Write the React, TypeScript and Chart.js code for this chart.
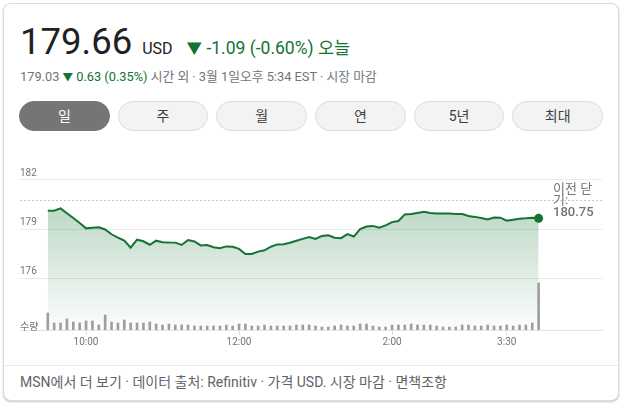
import React, { useEffect, useRef } from "react";
import { Chart, registerables } from "chart.js";

Chart.register(...registerables);

const FONT = 'Roboto, "Noto Sans CJK KR", "Noto Sans", sans-serif';

// 5-minute intraday times (Eastern)
const times = [
  "09:30", "09:35", "09:40", "09:45", "09:50", "09:55",
  "10:00", "10:05", "10:10", "10:15", "10:20", "10:25", "10:30", "10:35", "10:40", "10:45", "10:50", "10:55",
  "11:00", "11:05", "11:10", "11:15", "11:20", "11:25", "11:30", "11:35", "11:40", "11:45", "11:50", "11:55",
  "12:00", "12:05", "12:10", "12:15", "12:20", "12:25", "12:30", "12:35", "12:40", "12:45", "12:50", "12:55",
  "13:00", "13:05", "13:10", "13:15", "13:20", "13:25", "13:30", "13:35", "13:40", "13:45", "13:50", "13:55",
  "14:00", "14:05", "14:10", "14:15", "14:20", "14:25", "14:30", "14:35", "14:40", "14:45", "14:50", "14:55",
  "15:00", "15:05", "15:10", "15:15", "15:20", "15:25", "15:30", "15:35", "15:40", "15:45", "15:50", "15:55",
];

const prices = [
  180.13, 180.13, 180.27, 179.97, 179.68, 179.38,
  179.05, 179.09, 179.12, 178.98, 178.69, 178.48, 178.31, 177.87, 178.36, 178.26, 178.05, 178.30,
  178.21, 178.19, 178.18, 178.04, 178.34, 178.25, 178.01, 178.03, 177.90, 177.84, 177.95, 177.93,
  177.80, 177.49, 177.49, 177.63, 177.71, 177.93, 178.07, 178.08, 178.17, 178.29, 178.41, 178.52,
  178.41, 178.59, 178.63, 178.48, 178.45, 178.70, 178.55, 179.01, 179.16, 179.20, 179.09, 179.23,
  179.43, 179.50, 179.90, 179.92, 179.99, 180.06, 179.99, 179.96, 179.95, 179.95, 179.93, 179.92,
  179.80, 179.75, 179.68, 179.59, 179.71, 179.70, 179.52, 179.58, 179.63, 179.66, 179.70, 179.66,
];

// volume (hundreds of thousands of shares)
const volumes = [
  17, 7, 7, 11, 8, 7,
  9, 9, 5, 15, 8, 7, 10, 7, 7, 7, 8, 6,
  5, 6, 5, 5, 5, 4, 4, 4, 4, 4, 5, 4,
  6, 6, 4, 4, 5, 4, 4, 4, 4, 5, 5, 5,
  4, 3, 3, 4, 5, 4, 4, 6, 6, 4, 3, 3,
  5, 5, 5, 6, 5, 5, 5, 4, 3, 3, 3, 5,
  5, 4, 4, 5, 4, 4, 5, 4, 5, 5, 7, 47,
];

const prevClose = 180.75;
const yTickValues = [176, 179, 182];
const xTickValues = ["10:00", "12:00", "14:00", "15:30"];
const xTickLabels = ["10:00", "12:00", "2:00", "3:30"];
const rangeButtons = ["일", "주", "월", "연", "5년", "최대"];

const toMin = (t: string) => {
  const [h, m] = t.split(":").map(Number);
  return h * 60 + m;
};

const X_MIN = 548.2;
const X_MAX = 1004.7;
const Y_MIN = 172.85;
const Y_MAX = 183.22;
const VOL_MAX = 170;

function PriceChart() {
  const ref = useRef<HTMLCanvasElement | null>(null);
  useEffect(() => {
    if (!ref.current) return;
    Chart.defaults.font.family = FONT;
    const xTickMins = xTickValues.map(toMin);
    const chart = new Chart(ref.current, {
      type: "line",
      data: {
        datasets: [
          {
            type: "bar",
            label: "수량",
            data: times.map((t, i) => ({ x: toMin(t), y: volumes[i] })),
            xAxisID: "x",
            yAxisID: "y2",
            backgroundColor: "#9e9e9e",
            barThickness: 2,
            order: 0,
          } as any,
          {
            type: "line",
            label: "가격",
            data: times.map((t, i) => ({ x: toMin(t), y: prices[i] })),
            xAxisID: "x",
            yAxisID: "y",
            borderColor: "#137333",
            borderWidth: 2,
            tension: 0,
            fill: "start",
            backgroundColor: (ctx: any) => {
              const a = ctx.chart.chartArea;
              if (!a) return "rgba(19,115,51,0.2)";
              const g = ctx.chart.ctx.createLinearGradient(0, a.top, 0, a.bottom);
              g.addColorStop(0, "rgba(19,115,51,0.38)");
              g.addColorStop(1, "rgba(19,115,51,0.01)");
              return g;
            },
            pointRadius: (ctx: any) => (ctx.dataIndex === prices.length - 1 ? 4.5 : 0),
            pointBackgroundColor: "#137333",
            pointBorderWidth: 0,
            order: 1,
          },
          {
            type: "line",
            label: "이전 닫기",
            data: [
              { x: X_MIN, y: prevClose },
              { x: X_MAX, y: prevClose },
            ],
            xAxisID: "x",
            yAxisID: "y",
            borderColor: "#c8c8c8",
            borderWidth: 1,
            borderDash: [2, 2],
            pointRadius: 0,
            fill: false,
            order: 2,
          },
        ],
      },
      options: {
        responsive: false,
        animation: false,
        devicePixelRatio: 1,
        layout: { padding: { left: 20, right: 21, top: 10, bottom: 0 } },
        plugins: { legend: { display: false }, tooltip: { enabled: false } },
        scales: {
          x: {
            type: "linear",
            min: X_MIN,
            max: X_MAX,
            offset: false,
            afterBuildTicks: (s: any) => {
              s.ticks = xTickMins.map((v) => ({ value: v }));
            },
            afterFit: (s: any) => {
              s.height = 25;
              s.paddingLeft = 0;
              s.paddingRight = 0;
            },
            ticks: {
              autoSkip: false,
              maxRotation: 0,
              padding: 1,
              color: "#70757a",
              font: { size: 10, family: FONT },
              callback: (v: any) => {
                const i = xTickMins.indexOf(Number(v));
                return i >= 0 ? xTickLabels[i] : "";
              },
            },
            grid: {
              display: true,
              drawOnChartArea: false,
              drawTicks: true,
              tickLength: 5,
              color: "#dadce0",
              offset: false,
            },
            border: { display: true, color: "#e3e3e3" },
          },
          y: {
            type: "linear",
            position: "left",
            min: Y_MIN,
            max: Y_MAX,
            z: 1,
            afterBuildTicks: (s: any) => {
              s.ticks = yTickValues.map((v) => ({ value: v }));
            },
            afterFit: (s: any) => {
              s.width = 0;
              s.paddingTop = 0;
              s.paddingBottom = 0;
            },
            ticks: {
              mirror: true,
              padding: 0,
              labelOffset: -7,
              color: "#70757a",
              font: { size: 10, family: FONT },
              callback: (v: any) => String(v),
            },
            grid: { color: "#e8eaed", drawTicks: false, lineWidth: 1 },
            border: { display: false },
          },
          y2: {
            type: "linear",
            display: false,
            min: 0,
            max: VOL_MAX,
          },
        },
      } as any,
    });
    return () => chart.destroy();
  }, []);
  return (
    <canvas
      ref={ref}
      width={623}
      height={205}
      style={{ position: "absolute", left: 0, top: 150, width: 623, height: 205 }}
    />
  );
}

export default function App() {
  const gray = "#70757a";
  const green = "#137333";
  return (
    <div
      style={{
        position: "fixed",
        left: 0,
        top: 0,
        width: 623,
        height: 404,
        background: "#fff",
        fontFamily: FONT,
        overflow: "hidden",
      }}
    >
      <div
        style={{
          position: "absolute",
          left: 3,
          top: 3,
          width: 614,
          height: 396,
          border: "1px solid #dadce0",
          borderRadius: 8,
          boxShadow: "0 1px 2px rgba(60,64,67,0.3)",
          background: "#fff",
        }}
      />
      <div
        style={{
          position: "absolute",
          left: 20,
          top: 24,
          height: 36,
          lineHeight: "36px",
          display: "flex",
          alignItems: "baseline",
          whiteSpace: "nowrap",
          color: "#202124",
        }}
      >
        <span style={{ fontSize: 36.5 }}>179.66</span>
        <span style={{ fontSize: 16, marginLeft: 10 }}>USD</span>
        <span style={{ fontSize: 17.5, marginLeft: 14, color: green }}>
          <span style={{ fontSize: 15.5 }}>▼</span> -1.09 (-0.60%) 오늘
        </span>
      </div>
      <div
        style={{
          position: "absolute",
          left: 20,
          top: 69,
          lineHeight: "15px",
          fontSize: 12.8,
          color: gray,
          whiteSpace: "nowrap",
        }}
      >
        179.03 <span style={{ color: green }}><span style={{ fontSize: 10.5 }}>▼</span> 0.63 (0.35%)</span> 시간 외 · 3월 1일오후 5:34 EST · 시장 마감
      </div>
      <div
        style={{
          position: "absolute",
          left: 19,
          top: 101,
          width: 584,
          height: 30,
          display: "flex",
          gap: 8,
        }}
      >
        {rangeButtons.map((b, i) => (
          <div
            key={b}
            style={{
              flex: 1,
              height: 30,
              boxSizing: "border-box",
              borderRadius: 15,
              border: i === 0 ? "1px solid #757575" : "1px solid #dadce0",
              background: i === 0 ? "#757575" : "#f3f3f3",
              color: i === 0 ? "#fff" : "#3c4043",
              fontSize: 14,
              lineHeight: "28px",
              textAlign: "center",
            }}
          >
            {b}
          </div>
        ))}
      </div>
      <PriceChart />
      <div
        style={{
          position: "absolute",
          left: 20,
          top: 322,
          fontSize: 10,
          lineHeight: "10px",
          color: gray,
        }}
      >
        수량
      </div>
      <div
        style={{
          position: "absolute",
          left: 553,
          top: 183,
          fontSize: 13,
          lineHeight: "11px",
          color: gray,
          whiteSpace: "nowrap",
        }}
      >
        이전 닫
        <br />
        기:
        <br />
        <span style={{ fontWeight: 500, lineHeight: "13px" }}>180.75</span>
      </div>
      <div
        style={{
          position: "absolute",
          left: 4,
          top: 365,
          width: 614,
          height: 1,
          background: "#e8eaed",
        }}
      />
      <div
        style={{
          position: "absolute",
          left: 20,
          top: 374,
          fontSize: 14,
          lineHeight: "17px",
          color: "#5f6368",
          whiteSpace: "nowrap",
        }}
      >
        MSN에서 더 보기 · 데이터 출처: Refinitiv · 가격 USD. 시장 마감 · 면책조항
      </div>
    </div>
  );
}
